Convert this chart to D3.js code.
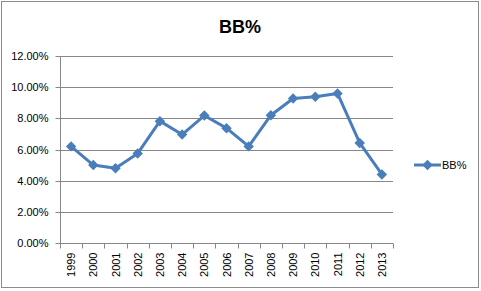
<!DOCTYPE html>
<html>
<head>
<meta charset="utf-8">
<script src="https://cdn.jsdelivr.net/npm/d3@7"></script>
<style>
  body { margin: 0; background: #fff; }
  text { font-family: "Liberation Sans", Arial, sans-serif; }
</style>
</head>
<body>
<div id="chart"></div>
<script>
// data
const years = ['1999', '2000', '2001', '2002', '2003', '2004', '2005', '2006', '2007', '2008', '2009', '2010', '2011', '2012', '2013'];
const bbPct = [6.2, 5.0, 4.8, 5.75, 7.82, 6.96, 8.18, 7.37, 6.2, 8.2, 9.27, 9.38, 9.6, 6.42, 4.4];
const yTicks = [0, 2, 4, 6, 8, 10, 12];
const seriesName = 'BB%';

const W = 481, H = 291;
const margin = {left: 60, top: 56, right: 88, bottom: 48};
const width = 393 - margin.left, height = 243 - margin.top;
const blue = '#4A7EBB', gridCol = '#878787';

const svg = d3.select('#chart').append('svg')
    .attr('width', W)
    .attr('height', H);

// outer chart border
svg.append('rect')
    .attr('x', 1.5).attr('y', 1.5)
    .attr('width', 477).attr('height', 286)
    .attr('fill', '#fff')
    .attr('stroke', '#8c8c8c')
    .attr('stroke-width', 1);

svg.append('text')
    .attr('x', 240).attr('y', 33)
    .attr('text-anchor', 'middle')
    .style('font-size', '18px')
    .style('font-weight', 'bold')
    .text(seriesName);

const g = svg.append('g')
    .attr('transform', 'translate(' + margin.left + ',' + margin.top + ')');

const scaleX = d3.scaleBand().domain(years).range([0, width]);
const scaleY = d3.scaleLinear().domain([0, 12]).range([height, 0]);

// horizontal gridlines
g.selectAll('.grid')
    .data(yTicks.filter((d) => d > 0))
    .enter().append('line')
    .attr('x1', 0).attr('x2', width)
    .attr('y1', (d) => Math.round(scaleY(d)) + 0.5)
    .attr('y2', (d) => Math.round(scaleY(d)) + 0.5)
    .attr('stroke', gridCol);

// y axis
const yAxis = g.append('g')
    .attr('transform', 'translate(0.5,0.5)')
    .call(d3.axisLeft(scaleY).tickValues(yTicks).tickSize(5).tickPadding(7)
        .tickFormat((d) => d.toFixed(2) + '%'));
yAxis.selectAll('line, path').attr('stroke', gridCol);
yAxis.select('path').attr('d', 'M0,' + Math.round(height) + 'V0');
yAxis.selectAll('text').style('font-size', '11px').attr('fill', '#000')
    .attr('dy', '0.35em');
yAxis.selectAll('.tick').attr('transform', (d) => 'translate(0,' + Math.round(scaleY(d)) + ')');

// x axis with ticks at category boundaries
const xAxis = g.append('g')
    .attr('transform', 'translate(0,' + (Math.round(height) + 0.5) + ')');
xAxis.append('line')
    .attr('x1', 0).attr('x2', width)
    .attr('stroke', gridCol);
xAxis.selectAll('.xt')
    .data(years.concat(['end']))
    .enter().append('line')
    .attr('x1', (d, i) => Math.round(i * scaleX.bandwidth()) + 0.5)
    .attr('x2', (d, i) => Math.round(i * scaleX.bandwidth()) + 0.5)
    .attr('y1', 0).attr('y2', 5)
    .attr('stroke', gridCol);
xAxis.selectAll('.xl')
    .data(years)
    .enter().append('text')
    .attr('transform', (d) => 'translate(' + (scaleX(d) + scaleX.bandwidth() / 2 + 4) + ',9) rotate(-90)')
    .attr('text-anchor', 'end')
    .style('font-size', '11px')
    .text((d) => d);

// line
const line = d3.line()
    .x((d, i) => scaleX(years[i]) + scaleX.bandwidth() / 2)
    .y((d) => scaleY(d));
g.append('path')
    .datum(bbPct)
    .attr('fill', 'none')
    .attr('stroke', blue)
    .attr('stroke-width', 3)
    .attr('stroke-linejoin', 'round')
    .attr('d', line);

const diamond = d3.symbol().type(d3.symbolDiamond2).size(70);
g.selectAll('.pt')
    .data(bbPct)
    .enter().append('path')
    .attr('transform', (d, i) => 'translate(' + (scaleX(years[i]) + scaleX.bandwidth() / 2) + ',' + scaleY(d) + ')')
    .attr('d', diamond)
    .attr('fill', blue);

// legend
const legend = svg.append('g').attr('transform', 'translate(414,165)');
legend.append('line')
    .attr('x1', 0).attr('x2', 27)
    .attr('stroke', blue).attr('stroke-width', 3);
legend.append('path')
    .attr('transform', 'translate(13.5,0)')
    .attr('d', diamond)
    .attr('fill', blue);
legend.append('text')
    .attr('x', 28).attr('y', 4)
    .style('font-size', '11px')
    .text(seriesName);
</script>
</body>
</html>
